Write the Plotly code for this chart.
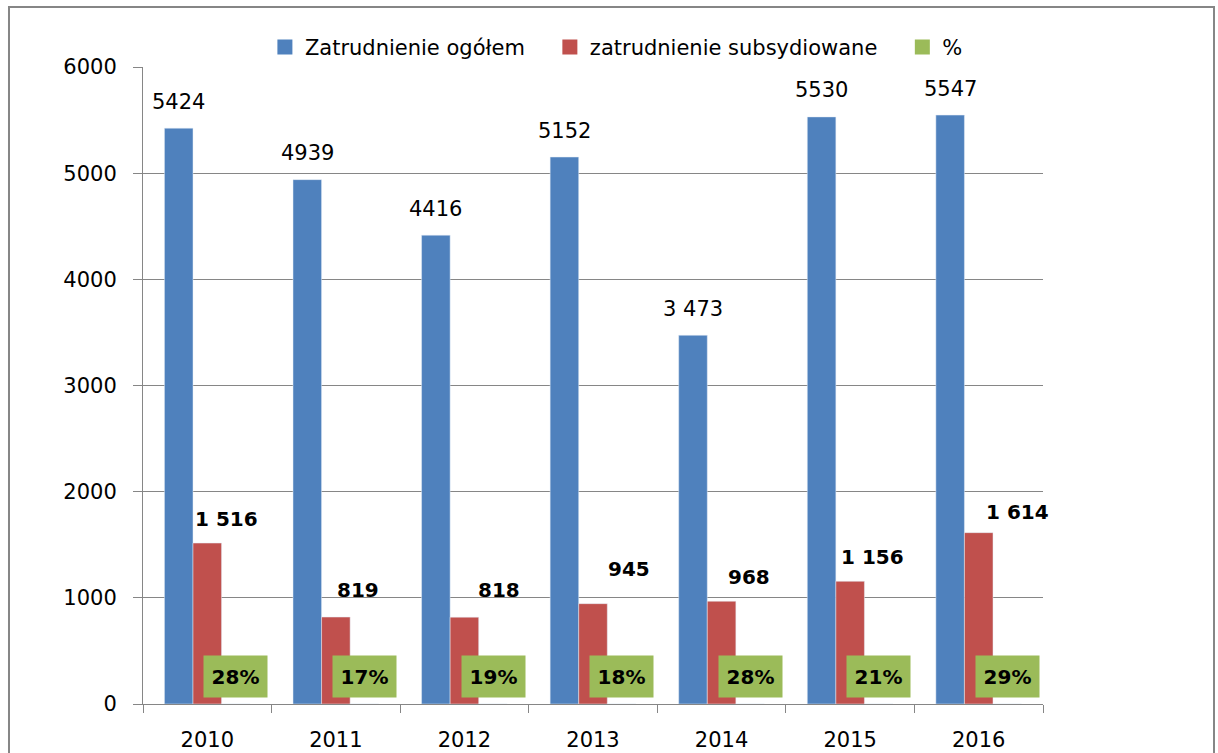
import plotly.graph_objects as go

# ---- data ----
years = ["2010", "2011", "2012", "2013", "2014", "2015", "2016"]
total = [5424, 4939, 4416, 5152, 3473, 5530, 5547]
subsid = [1516, 819, 818, 945, 968, 1156, 1614]
pct = [0.28, 0.17, 0.19, 0.18, 0.28, 0.21, 0.29]
total_labels = ["5424", "4939", "4416", "5152", "3 473", "5530", "5547"]
subsid_labels = ["1 516", "819", "818", "945", "968", "1 156", "1 614"]
series_names = ["Zatrudnienie ogółem", "zatrudnienie subsydiowane", "%"]
y_ticks = [0, 1000, 2000, 3000, 4000, 5000, 6000]

# ---- styling ----
BLUE, RED, GREEN = "#4F81BD", "#C0504D", "#9BBB59"
GRID = "#868686"
FONT = "DejaVu Sans"
BAR_W = 128.57 * (2 / 3) / 3  # px width of one bar
NB = "\u00a0"
# manual placement nudges (px) of the red data labels, as in the original
red_dx = [19, 22, 35, 36, 27, 22, 39]
red_dy = [24, 27, 27, 35, 24, 24, 21]

fig = go.Figure()
for name, vals, col in zip(series_names, [total, subsid, pct], [BLUE, RED, GREEN]):
    fig.add_trace(go.Bar(x=years, y=vals, name=name, marker_color=col, showlegend=False))
# legend entries with larger square keys
for j, (name, col) in enumerate(zip(series_names, [BLUE, RED, GREEN])):
    fig.add_trace(go.Scatter(x=[None], y=[None], mode="markers", name=name + (NB * 3 if j < 2 else ""),
                             marker=dict(symbol="square", size=15, color=col)))

ann = []
for i in range(len(years)):
    ann.append(dict(x=i, y=total[i], xref="x", yref="y", text=total_labels[i],
                    showarrow=False, xshift=-BAR_W, yshift=26.5, yanchor="middle",
                    font=dict(family=FONT, size=21, color="black")))
    ann.append(dict(x=i, y=subsid[i], xref="x", yref="y", text="<b>" + subsid_labels[i] + "</b>",
                    showarrow=False, xshift=red_dx[i], yshift=red_dy[i], yanchor="middle",
                    font=dict(family=FONT, size=20, color="black")))
    ann.append(dict(x=i, y=pct[i], xref="x", yref="y", text="<b>%d%%</b>" % round(pct[i] * 100),
                    showarrow=False, xshift=BAR_W, yshift=27.7, yanchor="middle",
                    bgcolor=GREEN, width=57, height=35, borderpad=3,
                    font=dict(family=FONT, size=20, color="black")))

fig.update_layout(
    width=1218, height=753,
    margin=dict(l=143, r=175, t=67, b=49, autoexpand=False),
    paper_bgcolor="white", plot_bgcolor="white",
    barmode="group", bargap=1 / 3, bargroupgap=0,
    font=dict(family=FONT, size=21, color="black"),
    showlegend=True,
    legend=dict(orientation="h", x=0.526, xanchor="center", y=1.031, yanchor="middle",
                font=dict(family=FONT, size=21), bgcolor="rgba(0,0,0,0)"),
    annotations=ann,
    shapes=[dict(type="rect", xref="paper", yref="paper",
                 x0=-0.1489, x1=1.19, y0=-0.15, y1=1.0942,
                 line=dict(color=GRID, width=2), fillcolor="rgba(0,0,0,0)", layer="below")],
)
fig.update_yaxes(range=[0, 6000], tickvals=y_ticks, showgrid=True, gridcolor=GRID, gridwidth=1,
                 showline=True, linecolor=GRID, linewidth=1, ticks="outside", ticklen=9,
                 tickcolor=GRID, zeroline=False, ticklabelstandoff=12, automargin=False,
                 tickfont=dict(family=FONT, size=21))
fig.update_xaxes(type="category", categoryorder="array", categoryarray=years,
                 range=[-0.5, len(years) - 0.5], automargin=False,
                 showline=True, linecolor=GRID, linewidth=1, ticks="outside",
                 ticklen=8, tickcolor=GRID, tickson="boundaries", ticklabelstandoff=17,
                 tickfont=dict(family=FONT, size=21))

fig.write_html("out.html", config={"displayModeBar": False},
               post_script="document.body.style.margin='0px';")
